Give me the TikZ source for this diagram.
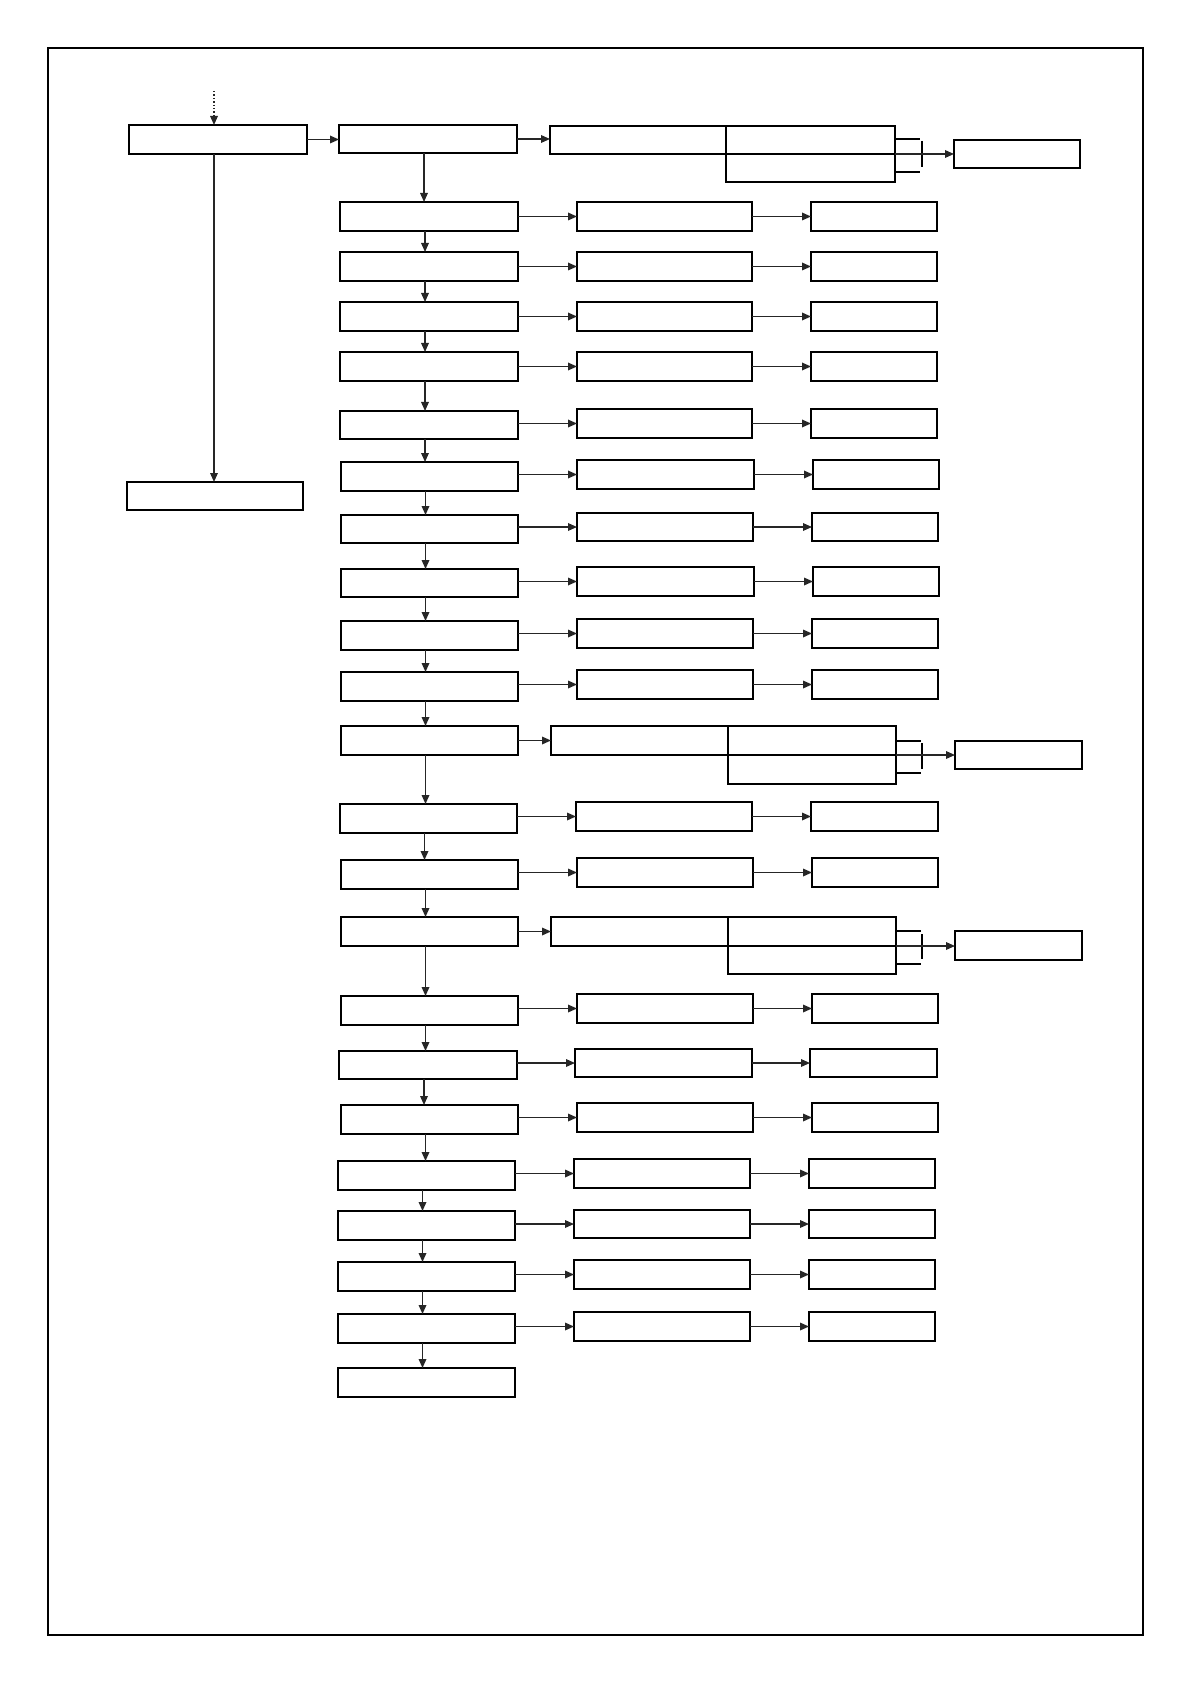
\documentclass[tikz,border=0pt]{standalone}
\usetikzlibrary{arrows.meta,fit,calc}
\newcommand{\bx}[5]{\node[box, fit={(#2,#3) (#4,#5)}] (#1) {};}
\begin{document}
\begin{tikzpicture}[x=0.5pt,y=-0.5pt,
 box/.style={draw, line width=0.7pt, inner sep=0pt, outer sep=0pt},
 arr/.style={line width=0.7pt, draw=black!85, -{Triangle[length=4.5pt,width=3.8pt]}},
 ln/.style={line width=0.65pt}]
\useasboundingbox (0,0) rectangle (1191,1684);
\draw[line width=0.65pt] (48,48) rectangle (1143,1635);

% top-left
\bx{A}{129}{125}{307}{154}
\bx{E}{127}{482}{303}{510}
\coordinate (top) at (214,91);
\draw[arr, densely dotted] (top) -- (top |- A.north);
\draw[arr] ([xshift=-2pt]A.south) -- ([xshift=-2pt]A.south |- E.north);

% first row
\bx{B}{339}{125}{517}{153}
\bx{P1}{550}{126}{895}{154}
\bx{P1b}{726}{154}{895}{182}
\bx{D1}{954}{140}{1080}{168}
\draw[arr] (A.east) -- (A.east -| B.west);
\draw[arr] (B.east) -- (B.east -| P1.west);
\draw[line width=0.7pt] (P1b.north west) -- (P1b.north west |- P1.north);
\draw[ln] (895,139) -- (920,139);
\draw[ln] (895,172) -- (920,172);
\draw[ln] (922,141) -- (922,167);
\draw[arr] (P1.south east) -- (D1.west);

% rows
\bx{L1}{340}{202}{518}{231}\bx{M1}{577}{202}{752}{231}\bx{R1}{811}{202}{937}{231}
\bx{L2}{340}{252}{518}{281}\bx{M2}{577}{252}{752}{281}\bx{R2}{811}{252}{937}{281}
\bx{L3}{340}{302}{518}{331}\bx{M3}{577}{302}{752}{331}\bx{R3}{811}{302}{937}{331}
\bx{L4}{340}{352}{518}{381}\bx{M4}{577}{352}{752}{381}\bx{R4}{811}{352}{937}{381}
\bx{L5}{340}{411}{518}{439}\bx{M5}{577}{409}{752}{438}\bx{R5}{811}{409}{937}{438}
\bx{L6}{341}{462}{518}{491}\bx{M6}{577}{460}{754}{489}\bx{R6}{813}{460}{939}{489}
\bx{L7}{341}{515}{518}{543}\bx{M7}{577}{513}{753}{541}\bx{R7}{812}{513}{938}{541}
\bx{L8}{341}{569}{518}{597}\bx{M8}{577}{567}{754}{596}\bx{R8}{813}{567}{939}{596}
\bx{L9}{341}{621}{518}{650}\bx{M9}{577}{619}{753}{648}\bx{R9}{812}{619}{938}{648}
\bx{L10}{341}{672}{518}{701}\bx{M10}{577}{670}{753}{699}\bx{R10}{812}{670}{938}{699}
\bx{L11}{341}{726}{518}{755}
\bx{L12}{340}{804}{517}{833}\bx{M12}{576}{802}{752}{831}\bx{R12}{811}{802}{938}{831}
\bx{L13}{341}{860}{518}{889}\bx{M13}{577}{858}{753}{887}\bx{R13}{812}{858}{938}{887}
\bx{L14}{341}{917}{518}{946}
\bx{L15}{341}{996}{518}{1025}\bx{M15}{577}{994}{753}{1023}\bx{R15}{812}{994}{938}{1023}
\bx{L16}{339}{1051}{517}{1079}\bx{M16}{575}{1049}{752}{1077}\bx{R16}{810}{1049}{937}{1077}
\bx{L17}{341}{1105}{518}{1134}\bx{M17}{577}{1103}{753}{1132}\bx{R17}{812}{1103}{938}{1132}
\bx{L18}{338}{1161}{515}{1190}\bx{M18}{574}{1159}{750}{1188}\bx{R18}{809}{1159}{935}{1188}
\bx{L19}{338}{1211}{515}{1240}\bx{M19}{574}{1210}{750}{1238}\bx{R19}{809}{1210}{935}{1238}
\bx{L20}{338}{1262}{515}{1291}\bx{M20}{574}{1260}{750}{1289}\bx{R20}{809}{1260}{935}{1289}
\bx{L21}{338}{1314}{515}{1343}\bx{M21}{574}{1312}{750}{1341}\bx{R21}{809}{1312}{935}{1341}
\bx{L22}{338}{1368}{515}{1397}

% split rows
\bx{P2}{551}{726}{896}{755}
\bx{P2b}{728}{755}{896}{784}
\bx{D2}{955}{741}{1082}{769}
\draw[line width=0.7pt] (P2b.north west) -- (P2b.north west |- P2.north);
\draw[ln] (896,741) -- (921,741);
\draw[ln] (896,773) -- (921,773);
\draw[ln] (922,743) -- (922,769);
\draw[arr] (P2.south east) -- (P2.south east -| D2.west);
\draw[arr] (L11.east) -- (L11.east -| P2.west);

\bx{P3}{551}{917}{896}{946}
\bx{P3b}{728}{946}{896}{974}
\bx{D3}{955}{931}{1082}{960}
\draw[line width=0.7pt] (P3b.north west) -- (P3b.north west |- P3.north);
\draw[ln] (896,931) -- (921,931);
\draw[ln] (896,964) -- (921,964);
\draw[ln] (922,934) -- (922,959);
\draw[arr] (P3.south east) -- (P3.south east -| D3.west);
\draw[arr] (L14.east) -- (L14.east -| P3.west);

% horizontal arrows
\foreach \i in {1,...,10,12,13,15,16,17,18,19,20,21}{
  \draw[arr] (L\i.east |- M\i.west) -- (M\i.west);
  \draw[arr] (M\i.east) -- (M\i.east -| R\i.west);
}

% vertical arrows
\draw[arr] ([xshift=-2pt]B.south) -- ([xshift=-2pt]B.south |- L1.north);
\foreach \i [evaluate=\i as \j using int(\i+1)] in {1,...,21}{
  \draw[arr] ([xshift=-2pt]L\i.south) -- ([xshift=-2pt]L\i.south |- L\j.north);
}
\end{tikzpicture}
\end{document}
